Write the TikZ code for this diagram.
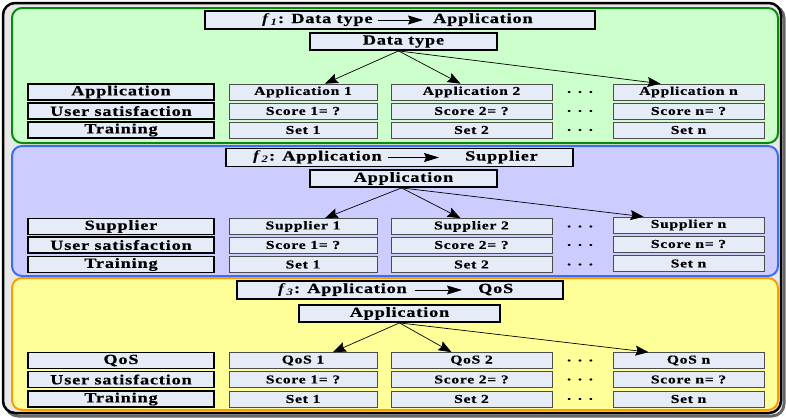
\documentclass[tikz,border=0pt]{standalone}
\usepackage{fontspec}
\setmainfont{Liberation Serif}[FakeStretch=1.3, LetterSpace=6, BoldFeatures={FakeBold=0.6}]
\usetikzlibrary{arrows.meta,calc}
\definecolor{boxfill}{HTML}{E6ECF7}
\definecolor{pgreen}{HTML}{CCFFCC}
\definecolor{bgreen}{HTML}{0A8A0A}
\definecolor{pblue}{HTML}{CCCCFF}
\definecolor{bblue}{HTML}{3A6EF0}
\definecolor{pyellow}{HTML}{FFFF99}
\definecolor{borange}{HTML}{FF9A00}
\newcommand{\bigf}{\bfseries\fontsize{14}{14}\selectfont}
\newcommand{\smf}{\bfseries\fontsize{12}{12}\selectfont}
\tikzset{
  lbl/.style={draw=black, line width=1.8pt, fill=boxfill, minimum width=186pt, minimum height=16pt, inner sep=0pt, font=\bigf},
  cellbox/.style={draw=black!70, line width=0.7pt, fill=boxfill, minimum height=16pt, inner sep=0pt, font=\smf},
  colone/.style={cellbox, minimum width=148pt},
  coltwo/.style={cellbox, minimum width=161pt},
  coln/.style={cellbox, minimum width=151pt},
  dotsnode/.style={inner sep=0pt, font=\smf},
  ttl/.style={draw=black, line width=1.8pt, fill=boxfill, minimum height=18pt, inner sep=0pt},
  subbox/.style={draw=black, line width=1.8pt, fill=boxfill, minimum height=17pt, inner sep=0pt, font=\bigf},
  ttxt/.style={inner sep=0pt, font=\bigf, text height=9pt, text depth=3pt, anchor=west},
  arr/.style={-{Stealth[length=13pt,width=10pt,inset=2pt]}, line width=0.7pt},
  tarr/.style={-{Stealth[length=15pt,width=9pt,inset=2pt]}, line width=0.9pt},
}
\begin{document}
\begin{tikzpicture}[x=1pt,y=-1pt]
\useasboundingbox (0,0) rectangle (786,418);
% outer frame
\draw[black!60, line width=3pt, rounded corners=12pt] (6,6) rectangle (784,416);
\draw[black, line width=2.5pt, fill=gray!18, rounded corners=12pt] (3,3) rectangle (781,413);
% panels
\draw[bgreen, line width=2pt, fill=pgreen, rounded corners=10pt] (12,8) rectangle (778,143);
\draw[bblue, line width=2pt, fill=pblue, rounded corners=10pt] (12,146) rectangle (778,276);
\draw[borange, line width=2pt, fill=pyellow, rounded corners=10pt] (12,278) rectangle (778,410);

% ---------- panel 1 ----------
\node[ttl, minimum width=390pt] (T1) at (400,20) {};
\node[ttxt] (T1a) at (262,20) {\textit{f}\textsubscript{\textit{1}}: Data type};
\node[ttxt] (T1b) at (433,20) {Application};
\draw[tarr, shorten <=5pt, shorten >=10pt] (T1a) -- (T1b);
\node[subbox, minimum width=187pt] (S1) at (403.5,41.5) {Data type};
\node[lbl] (L11) at (121,92) {Application};
\node[lbl] (L12) at (121,111) {User satisfaction};
\node[lbl] (L13) at (121,130) {Training};
\node[colone] (A11) at (303,92) {Application 1};
\node[colone] (A12) at (303,111) {Score 1= ?};
\node[colone] (A13) at (303,130) {Set 1};
\node[coltwo] (A21) at (471.5,92) {Application 2};
\node[coltwo] (A22) at (471.5,111) {Score 2= ?};
\node[coltwo] (A23) at (471.5,130) {Set 2};
\node[dotsnode] (D11) at (580,92) {.\hspace{7pt}.\hspace{7pt}.};
\node[dotsnode] (D12) at (580,111) {.\hspace{7pt}.\hspace{7pt}.};
\node[dotsnode] (D13) at (580,130) {.\hspace{7pt}.\hspace{7pt}.};
\node[coln] (AN1) at (688.5,92) {Application n};
\node[coln] (AN2) at (688.5,111) {Score n= ?};
\node[coln] (AN3) at (688.5,130) {Set n};
\coordinate (O1) at ($(S1.south)+(-5,0)$);
\draw[arr] (O1) -- ($(A11.north)+(22,0)$);
\draw[arr] (O1) -- ($(A21.north)+(-11,0)$);
\draw[arr] (O1) -- ($(AN1.north)+(-28,0)$);

% ---------- panel 2 ----------
\node[ttl, minimum width=347pt] (T2) at (399.5,157.5) {};
\node[ttxt] (T2a) at (253,157.5) {\textit{f}\textsubscript{\textit{2}}: Application};
\node[ttxt] (T2b) at (465,157.5) {Supplier};
\draw[tarr, shorten <=6pt, shorten >=26pt] (T2a) -- (T2b);
\node[subbox, minimum width=187pt] (S2) at (403.5,178.5) {Application};
\node[lbl] (L21) at (121,226.5) {Supplier};
\node[lbl] (L22) at (121,245) {User satisfaction};
\node[lbl] (L23) at (121,264.5) {Training};
\node[colone] (B11) at (303,226.5) {Supplier 1};
\node[colone] (B12) at (303,245) {Score 1= ?};
\node[colone] (B13) at (303,264.5) {Set 1};
\node[coltwo] (B21) at (471.5,226.5) {Supplier 2};
\node[coltwo] (B22) at (471.5,245) {Score 2= ?};
\node[coltwo] (B23) at (471.5,264.5) {Set 2};
\node[dotsnode] (D21) at (580,226.5) {.\hspace{7pt}.\hspace{7pt}.};
\node[dotsnode] (D22) at (580,245) {.\hspace{7pt}.\hspace{7pt}.};
\node[dotsnode] (D23) at (580,264.5) {.\hspace{7pt}.\hspace{7pt}.};
\node[coln] (BN1) at (688.5,225) {Supplier n};
\node[coln] (BN2) at (688.5,244) {Score n= ?};
\node[coln] (BN3) at (688.5,263.5) {Set n};
\coordinate (O2) at ($(S2.south)+(-2,0)$);
\draw[arr] (O2) -- ($(B11.north)+(22,0)$);
\draw[arr] (O2) -- ($(B21.north)+(-11,0)$);
\draw[arr] (O2) -- ($(BN1.north)+(-45,0)$);

% ---------- panel 3 ----------
\node[ttl, minimum width=326pt] (T3) at (400,290) {};
\node[ttxt] (T3a) at (278,290) {\textit{f}\textsubscript{\textit{3}}: Application};
\node[ttxt] (T3b) at (478,290) {QoS};
\draw[tarr, shorten <=8pt, shorten >=16pt] (T3a) -- (T3b);
\node[subbox, minimum width=201pt] (S3) at (399.5,313.5) {Application};
\node[lbl] (L31) at (121,360.5) {QoS};
\node[lbl] (L32) at (121,379.5) {User satisfaction};
\node[lbl] (L33) at (121,399) {Training};
\node[colone] (C11) at (303,360.5) {QoS 1};
\node[colone] (C12) at (303,379.5) {Score 1= ?};
\node[colone] (C13) at (303,399) {Set 1};
\node[coltwo] (C21) at (471.5,360.5) {QoS 2};
\node[coltwo] (C22) at (471.5,379.5) {Score 2= ?};
\node[coltwo] (C23) at (471.5,399) {Set 2};
\node[dotsnode] (D31) at (580,360.5) {.\hspace{7pt}.\hspace{7pt}.};
\node[dotsnode] (D32) at (580,379.5) {.\hspace{7pt}.\hspace{7pt}.};
\node[dotsnode] (D33) at (580,399) {.\hspace{7pt}.\hspace{7pt}.};
\node[coln] (CN1) at (688.5,360.5) {QoS n};
\node[coln] (CN2) at (688.5,379.5) {Score n= ?};
\node[coln] (CN3) at (688.5,399) {Set n};
\coordinate (O3) at ($(S3.south)+(0,0)$);
\draw[arr] (O3) -- ($(C11.north)+(30,0)$);
\draw[arr] (O3) -- ($(C21.north)+(-20,0)$);
\draw[arr] (O3) -- ($(CN1.north)+(-40,0)$);
\end{tikzpicture}
\end{document}
